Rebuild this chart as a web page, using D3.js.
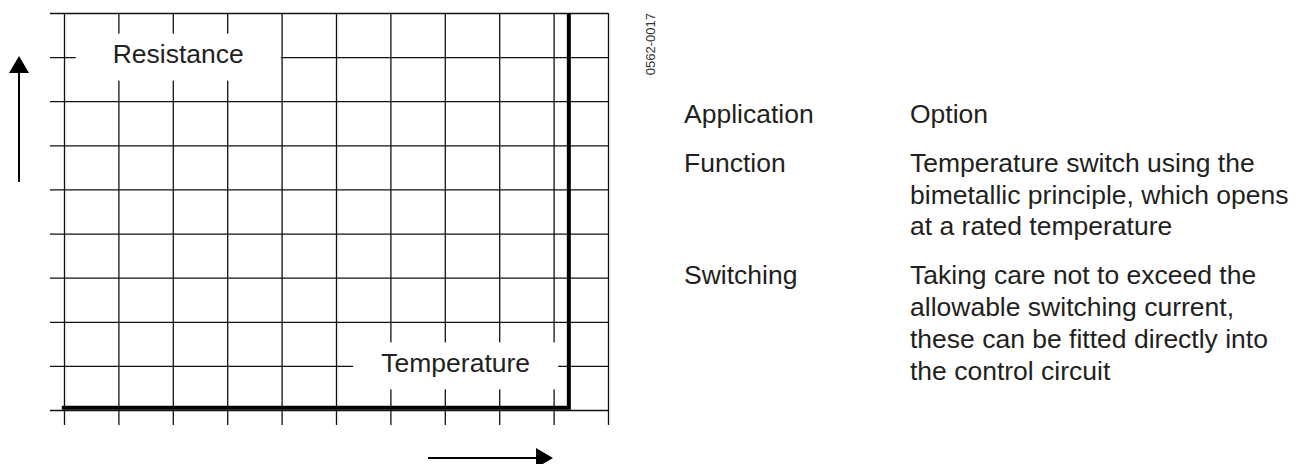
<!DOCTYPE html>
<html>
<head>
<meta charset="utf-8">
<script src="https://cdn.jsdelivr.net/npm/d3@7"></script>
<style>
  html, body { margin: 0; padding: 0; background: #fff; }
  svg { display: block; }
  text { font-family: "Liberation Sans", Arial, Helvetica, sans-serif; fill: #231f20; }
</style>
</head>
<body>
<svg id="chart" width="1309" height="464"></svg>
<script>
// grid divisions (qualitative chart: no numeric scale shown)
const gridX = [0, 1, 2, 3, 4, 5, 6, 7, 8, 9, 10];
const gridY = [0, 1, 2, 3, 4, 5, 6, 7, 8, 9];

// resistance vs temperature: low until the rated temperature, then open
const curveTemp = [-0.04, 9.28, 9.28];
const curveRes = [0.05, 0.05, 9];

// axis captions, sitting on a grid line
const axisLabels = [
  { text: 'Resistance', x: 2.1, y: 8 },
  { text: 'Temperature', x: 7.2, y: 1 },
];

const figureCode = '0562-0017';

// side table
const tableKeys = ['Application', 'Function', 'Switching'];
const tableValues = [
  ['Option'],
  ['Temperature switch using the', 'bimetallic principle, which opens', 'at a rated temperature'],
  ['Taking care not to exceed the', 'allowable switching current,', 'these can be fitted directly into', 'the control circuit'],
];

const svg = d3.select('#chart');

const x = d3.scaleLinear().domain([0, 10]).range([64, 608]);
const y = d3.scaleLinear().domain([0, 9]).range([410, 13]);

const gridColor = '#111';
const left = 50, bottom = 425;

// vertical grid lines (extend a little below the bottom line)
svg.append('g')
  .attr('transform', `translate(0,${bottom})`)
  .call(d3.axisBottom(x).tickValues(gridX).tickSize(-(bottom - y(9))).tickFormat(''))
  .call((g) => g.select('.domain').remove())
  .call((g) => g.selectAll('line').attr('stroke', gridColor).attr('stroke-width', 1.3));

// horizontal grid lines (extend a little left of the first column)
svg.append('g')
  .attr('transform', `translate(${x(10)},0)`)
  .call(d3.axisLeft(y).tickValues(gridY).tickSize(x(10) - left).tickFormat(''))
  .call((g) => g.select('.domain').remove())
  .call((g) => g.selectAll('line').attr('stroke', gridColor).attr('stroke-width', 1.3));

// characteristic
const line = d3.line().x((d) => x(d[0])).y((d) => y(d[1]));
svg.append('path')
  .datum(curveTemp.map((t, i) => [t, curveRes[i]]))
  .attr('d', line)
  .attr('fill', 'none')
  .attr('stroke', '#000')
  .attr('stroke-width', 4)
  .attr('stroke-linejoin', 'miter');

// axis captions on white boxes
const boxW = 205, boxH = 47;
const cap = svg.selectAll('g.caption')
  .data(axisLabels)
  .join('g')
  .attr('class', 'caption')
  .attr('transform', (d) => `translate(${x(d.x)},${y(d.y)})`);
cap.append('rect')
  .attr('x', -boxW / 2).attr('y', -boxH / 2)
  .attr('width', boxW).attr('height', boxH)
  .attr('fill', '#fff');
cap.append('text')
  .attr('text-anchor', 'middle')
  .attr('y', 6)
  .attr('font-size', 26.5)
  .text((d) => d.text);

// direction arrows
function arrow(x1, y1, x2, y2) {
  const ang = Math.atan2(y2 - y1, x2 - x1);
  const len = 17, half = 10;
  const bx = x2 - len * Math.cos(ang), by = y2 - len * Math.sin(ang);
  svg.append('line')
    .attr('x1', x1).attr('y1', y1).attr('x2', bx).attr('y2', by)
    .attr('stroke', '#000').attr('stroke-width', 2);
  const px = -Math.sin(ang) * half, py = Math.cos(ang) * half;
  svg.append('path')
    .attr('d', `M${x2},${y2}L${bx + px},${by + py}L${bx - px},${by - py}Z`)
    .attr('fill', '#000');
}
arrow(19, 182, 19, 56);
arrow(428, 458, 553, 458);

// figure code
svg.append('text')
  .attr('transform', 'translate(655,13) rotate(-90)')
  .attr('text-anchor', 'end')
  .attr('font-size', 13)
  .style('fill', '#333')
  .text(figureCode);

// table
const col1 = 684, col2 = 910;
const lineH = 31.7, rowGap = 49;
let base = 123;
tableKeys.forEach((k, i) => {
  svg.append('text')
    .attr('x', col1).attr('y', base)
    .attr('font-size', 26.5)
    .text(k);
  tableValues[i].forEach((ln, j) => {
    svg.append('text')
      .attr('x', col2).attr('y', base + j * lineH)
      .attr('font-size', 26.5)
      .text(ln);
  });
  base += (tableValues[i].length - 1) * lineH + rowGap;
});
</script>
</body>
</html>
